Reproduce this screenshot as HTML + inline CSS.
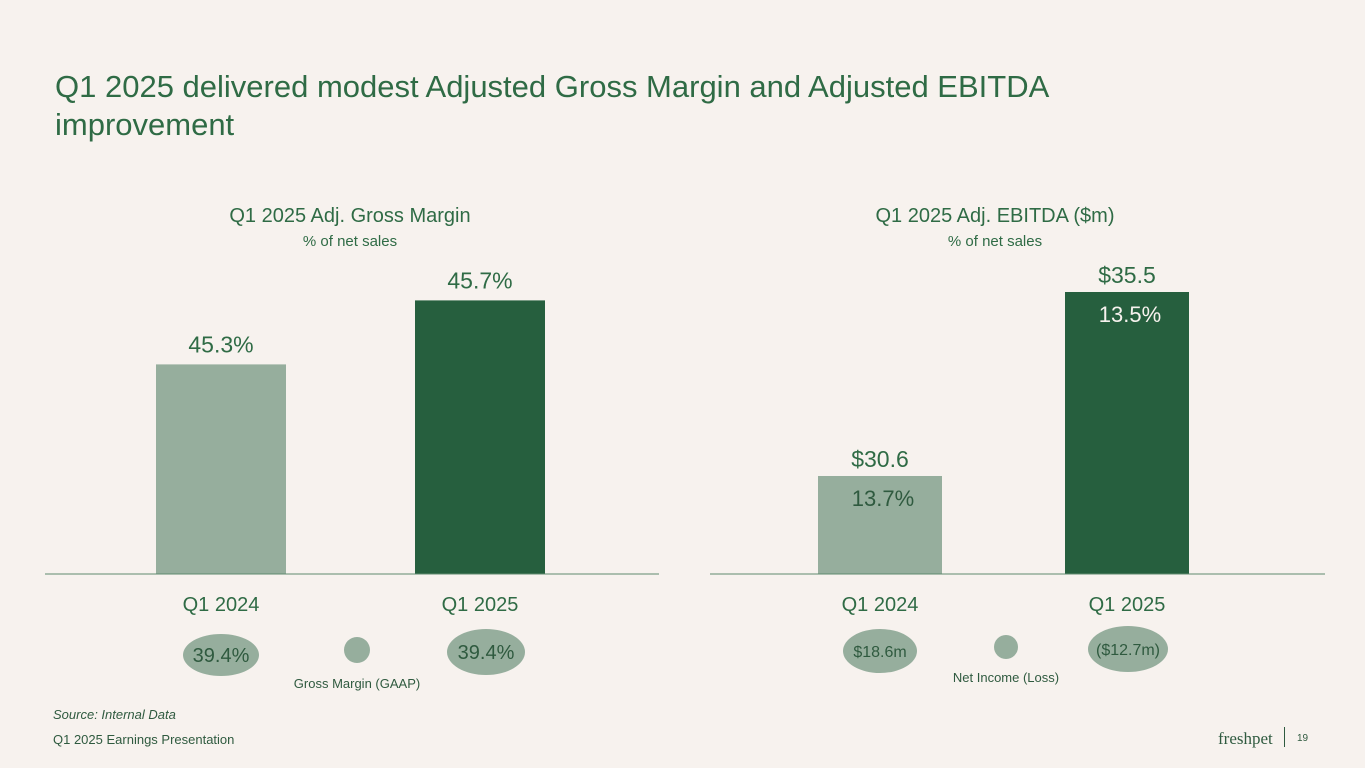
<!DOCTYPE html>
<html><head><meta charset="utf-8"><style>
body{margin:0;background:#f7f2ee;font-family:"Liberation Sans",sans-serif;}
#root{position:relative;width:1365px;height:768px;overflow:hidden;background:#f7f2ee;}
.t{position:absolute;white-space:nowrap;}
</style></head><body>
<div id="root">
<div class="t" style="left:55px;top:68px;font-size:31px;line-height:38px;color:#2f6b45;">Q1 2025 delivered modest Adjusted Gross Margin and Adjusted EBITDA<br>improvement</div>
<svg id="chart" width="1365" height="768" style="position:absolute;left:0;top:0"></svg>
<div class="t" style="left:53px;top:707px;font-size:13px;font-style:italic;color:#2f5a3f;">Source: Internal Data</div>
<div class="t" style="left:53px;top:732px;font-size:13px;color:#2f5a3f;">Q1 2025 Earnings Presentation</div>
<div class="t" style="left:1218px;top:729px;font-size:17px;font-family:'Liberation Serif',serif;color:#2f5a3f;">freshpet</div>
<div style="position:absolute;left:1284px;top:727px;width:1px;height:20px;background:#2f5a3f;"></div>
<div class="t" style="left:1297px;top:733px;font-size:10px;color:#2f5a3f;">19</div>
</div>
<script>
const gmCategories=["Q1 2024","Q1 2025"];
const gmValues=[45.3,45.7];
const gmLabels=["45.3%","45.7%"];
const ebCategories=["Q1 2024","Q1 2025"];
const ebValues=[30.6,35.5];
const ebLabels=["$30.6","$35.5"];
const ebPct=["13.7%","13.5%"];
const gaapLabels=["39.4%","39.4%"];
const niLabels=["$18.6m","($12.7m)"];
const svg=document.getElementById('chart');
const NS="http://www.w3.org/2000/svg";
function mk(tag,attrs,text){const e=document.createElementNS(NS,tag);for(const k in attrs)e.setAttribute(k,attrs[k]);if(text!==undefined)e.textContent=text;svg.appendChild(e);return e;}
const base=574;
const gmY=v=>base-(v-43.99)*160;
const ebY=v=>base-(v-27.99)*37.55;
const colors=["#96ae9d","#265f3e"];
// left chart
let e=mk('text',{x:350,y:222,'text-anchor':'middle','font-size':20,fill:'#2f6b45'},"Q1 2025 Adj. Gross Margin");

e=mk('text',{x:350,y:246,'text-anchor':'middle','font-size':15,fill:'#2f6b45'},"% of net sales");

const gmX=[221,480];
gmValues.forEach((v,i)=>{
 let r=mk('rect',{x:gmX[i]-65,y:gmY(v),width:130,height:base-gmY(v),fill:colors[i]});
 
 let t=mk('text',{x:gmX[i],y:gmY(v)-12,'text-anchor':'middle','font-size':23,fill:'#2f6b45'},gmLabels[i]);
 
 t=mk('text',{x:gmX[i],y:611,'text-anchor':'middle','font-size':20,fill:'#2f6b45'},gmCategories[i]);
 
});
e=mk('line',{x1:45,x2:659,y1:base,y2:base,stroke:'#5f8a6f','stroke-width':1});

const gEll=[[221,655,38,21],[486,652,39,23]];
gaapLabels.forEach((l,i)=>{
 const c=gEll[i];
 let el=mk('ellipse',{cx:c[0],cy:c[1],rx:c[2],ry:c[3],fill:'#96ae9d'});
 
 let t=mk('text',{x:c[0],y:c[1]+7,'text-anchor':'middle','font-size':20,fill:'#2f5a3f'},l);
 
});
e=mk('ellipse',{cx:357,cy:650,rx:13,ry:13,fill:'#96ae9d'});
e=mk('text',{x:357,y:688,'text-anchor':'middle','font-size':13,fill:'#2f5a3f'},"Gross Margin (GAAP)");
// right chart
e=mk('text',{x:995,y:222,'text-anchor':'middle','font-size':20,fill:'#2f6b45'},"Q1 2025 Adj. EBITDA ($m)");

e=mk('text',{x:995,y:246,'text-anchor':'middle','font-size':15,fill:'#2f6b45'},"% of net sales");

const ebX=[880,1127];
ebValues.forEach((v,i)=>{
 let r=mk('rect',{x:ebX[i]-62,y:ebY(v),width:124,height:base-ebY(v),fill:colors[i]});
 
 let t=mk('text',{x:ebX[i],y:ebY(v)-9,'text-anchor':'middle','font-size':23,fill:'#2f6b45'},ebLabels[i]);
 
 t=mk('text',{x:ebX[i]+3,y:ebY(v)+30,'text-anchor':'middle','font-size':22,fill:i?'#f7f2ee':'#2f5a3f'},ebPct[i]);
 
 t=mk('text',{x:ebX[i],y:611,'text-anchor':'middle','font-size':20,fill:'#2f6b45'},ebCategories[i]);
 
});
e=mk('line',{x1:710,x2:1325,y1:base,y2:base,stroke:'#5f8a6f','stroke-width':1});

const nEll=[[880,651,37,22],[1128,649,40,23]];
niLabels.forEach((l,i)=>{
 const c=nEll[i];
 let el=mk('ellipse',{cx:c[0],cy:c[1],rx:c[2],ry:c[3],fill:'#96ae9d'});
 
 let t=mk('text',{x:c[0],y:c[1]+6,'text-anchor':'middle','font-size':16,fill:'#2f5a3f'},l);
 
});
e=mk('ellipse',{cx:1006,cy:647,rx:12,ry:12,fill:'#96ae9d'});
e=mk('text',{x:1006,y:682,'text-anchor':'middle','font-size':13,fill:'#2f5a3f'},"Net Income (Loss)");
</script>
</body></html>
